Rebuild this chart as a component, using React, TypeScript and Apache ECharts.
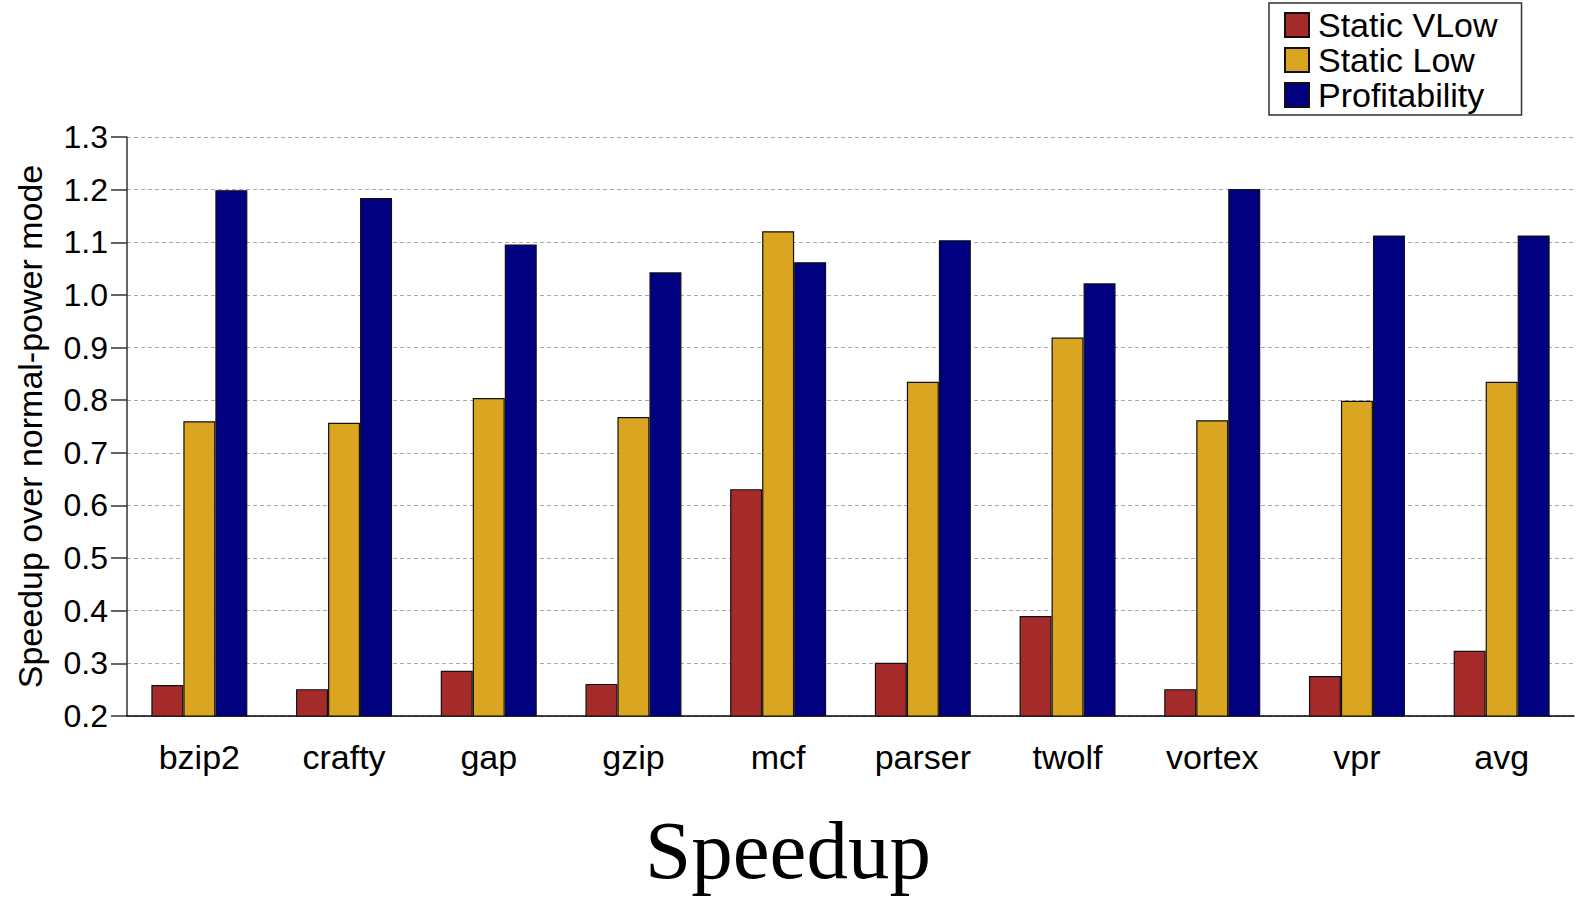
import React, { useEffect, useRef } from "react";
import * as echarts from "echarts";

const categories = ["bzip2", "crafty", "gap", "gzip", "mcf", "parser", "twolf", "vortex", "vpr", "avg"];
const staticVLow = [0.259, 0.251, 0.286, 0.261, 0.631, 0.301, 0.39, 0.251, 0.276, 0.324];
const staticLow = [0.76, 0.757, 0.804, 0.768, 1.121, 0.835, 0.919, 0.762, 0.799, 0.835];
const profitability = [1.199, 1.184, 1.096, 1.043, 1.062, 1.104, 1.022, 1.201, 1.113, 1.113];
const seriesNames = ["Static VLow", "Static Low", "Profitability"];
const colors = ["#A52A2A", "#DAA520", "#000080"];

export default function App() {
  const ref = useRef<HTMLDivElement>(null);
  useEffect(() => {
    if (!ref.current) return;
    const chart = echarts.init(ref.current, null, { renderer: "svg" });
    const font = "'Liberation Sans', Arial, sans-serif";
    const data = [staticVLow, staticLow, profitability];
    chart.setOption({
      animation: false,
      backgroundColor: "#ffffff",
      title: {
        text: "Speedup",
        left: "center",
        top: 803,
        textStyle: {
          fontFamily: "'Liberation Serif', 'DejaVu Serif', serif",
          fontSize: 83,
          fontWeight: "normal",
          color: "#000",
        },
      },
      legend: {
        orient: "vertical",
        left: 1269,
        top: 3,
        borderColor: "#333",
        borderWidth: 1.5,
        padding: [5, 24, 3, 15],
        itemWidth: 24,
        itemHeight: 24,
        itemGap: 1,
        icon: "rect",
        textStyle: { fontFamily: font, fontSize: 34, lineHeight: 34, color: "#000", padding: [0, 0, 0, 4] },
        data: seriesNames,
      },
      grid: { left: 127, right: 2, top: 137, bottom: 191, containLabel: false },
      xAxis: {
        type: "category",
        data: categories,
        axisLine: { lineStyle: { color: "#000", width: 1.5 } },
        axisTick: { alignWithLabel: true, length: 20, lineStyle: { color: "#333", width: 1.5 } },
        axisLabel: { fontFamily: font, fontSize: 34, color: "#000", margin: 24 },
      },
      yAxis: {
        type: "value",
        min: 0.2,
        max: 1.3,
        interval: 0.1,
        name: "Speedup over normal-power mode",
        nameLocation: "middle",
        nameGap: 80,
        nameTextStyle: { fontFamily: font, fontSize: 34, color: "#000" },
        axisLine: { show: true, lineStyle: { color: "#333", width: 1.5 } },
        axisTick: { show: true, length: 16, lineStyle: { color: "#333", width: 1.5 } },
        axisLabel: {
          fontFamily: font,
          fontSize: 32,
          color: "#000",
          margin: 19,
          formatter: (v: number) => v.toFixed(1),
        },
        splitLine: { show: true, lineStyle: { color: "#aaa", type: [4, 3], width: 1 } },
      },
      series: data.map((d, i) => ({
        type: "bar",
        name: seriesNames[i],
        data: d,
        barWidth: 32,
        barGap: "0%",
        itemStyle: { color: colors[i], borderColor: "#111", borderWidth: 1.2 },
      })),
    });
    return () => chart.dispose();
  }, []);
  return (
    <div
      ref={ref}
      style={{ position: "fixed", left: 0, top: 0, width: 1576, height: 907, background: "#fff" }}
    />
  );
}
